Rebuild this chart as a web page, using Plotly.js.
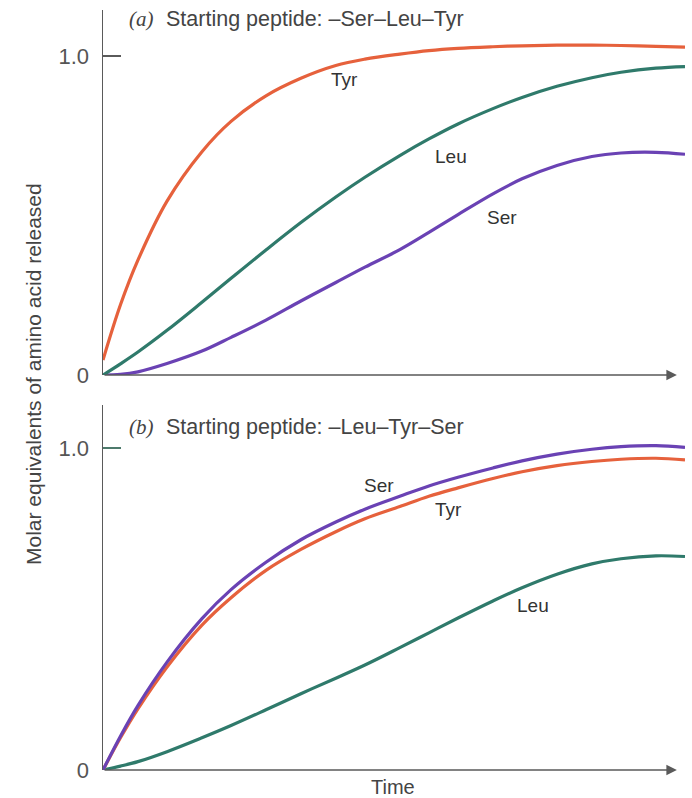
<!DOCTYPE html>
<html>
<head>
<meta charset="utf-8">
<script src="https://cdn.plot.ly/plotly-3.0.1.min.js"></script>
<style>html,body{margin:0;padding:0;background:#fff;}</style>
</head>
<body>
<div id="chart" style="width:692px;height:798px;"></div>
<script>
// Time grid (arbitrary units)
var time = [0, 0.3, 0.6, 1.1, 1.7, 2.2, 2.8, 3.4, 4.0, 4.5, 5.1, 5.6, 6.1, 6.7, 7.2, 7.8, 8.4, 8.9, 9.5, 10];

// (a) Starting peptide: -Ser-Leu-Tyr
var tyrA = [0.047, 0.22, 0.36, 0.545, 0.70, 0.795, 0.875, 0.93, 0.97, 0.99, 1.006, 1.017, 1.024, 1.029, 1.032, 1.034, 1.034, 1.033, 1.030, 1.028];
var leuA = [0, 0.035, 0.072, 0.14, 0.228, 0.303, 0.392, 0.478, 0.558, 0.62, 0.688, 0.74, 0.787, 0.835, 0.87, 0.905, 0.932, 0.949, 0.962, 0.967];
var serA = [0, 0.002, 0.01, 0.036, 0.075, 0.118, 0.172, 0.232, 0.29, 0.338, 0.393, 0.447, 0.503, 0.568, 0.615, 0.657, 0.685, 0.696, 0.698, 0.692];

// (b) Starting peptide: -Leu-Tyr-Ser
var serB = [0, 0.105, 0.2, 0.335, 0.47, 0.56, 0.645, 0.715, 0.77, 0.81, 0.85, 0.882, 0.909, 0.938, 0.96, 0.981, 0.996, 1.004, 1.007, 1.002];
var tyrB = [0, 0.1, 0.19, 0.32, 0.45, 0.535, 0.62, 0.685, 0.74, 0.78, 0.818, 0.85, 0.876, 0.905, 0.926, 0.945, 0.958, 0.965, 0.968, 0.963];
var leuB = [0, 0.012, 0.026, 0.057, 0.10, 0.138, 0.187, 0.237, 0.285, 0.326, 0.38, 0.426, 0.472, 0.525, 0.566, 0.608, 0.64, 0.656, 0.665, 0.663];

var yTickVals = [0, 1];
var yTickText = ['0', '1.0'];

var cTyr = '#e6613c', cLeu = '#2f7a6b', cSer = '#6a42b4';
var axisCol = '#5a5a5a';
var FONT = 'Liberation Sans, Arial, sans-serif';

function tr(y, color, xa, ya) {
  return {x: time, y: y, xaxis: xa, yaxis: ya, mode: 'lines', hoverinfo: 'skip',
          line: {color: color, width: 3.2, shape: 'spline', smoothing: 1}};
}

var data = [
  tr(serA, cSer, 'x', 'y'), tr(leuA, cLeu, 'x', 'y'), tr(tyrA, cTyr, 'x', 'y'),
  tr(leuB, cLeu, 'x2', 'y2'), tr(tyrB, cTyr, 'x2', 'y2'), tr(serB, cSer, 'x2', 'y2')
];

function yax(domain, range, tickcol) {
  return {domain: domain, range: range, showgrid: false, zeroline: false,
          showline: true, linecolor: axisCol, linewidth: 1.5,
          tickvals: yTickVals, ticktext: yTickText, ticks: 'inside', ticklen: 18,
          tickwidth: 1.5, tickcolor: tickcol, ticklabelstandoff: 8,
          tickfont: {family: FONT, size: 22, color: '#555'}};
}
function xax(anchor) {
  return {domain: [0, 1], range: [0, 10], anchor: anchor, showgrid: false, zeroline: false,
          showline: false, showticklabels: false, ticks: ''};
}

var ann = [];
function lab(text, x, y, xr, yr) {
  ann.push({text: text, x: x, y: y, xref: xr, yref: yr, showarrow: false,
            xanchor: 'center', yanchor: 'middle',
            font: {family: FONT, size: 19, color: '#333'}});
}
function arrow(xr, yr) {
  ann.push({text: '', x: 9.86, y: 0, ax: 0, ay: 0, xref: xr, yref: yr, axref: xr, ayref: yr,
            showarrow: true, arrowhead: 2, arrowsize: 1.4, arrowwidth: 1.5, arrowcolor: axisCol});
}
arrow('x', 'y');
arrow('x2', 'y2');

lab('Tyr', 4.15, 0.925, 'x', 'y');
lab('Leu', 5.98, 0.685, 'x', 'y');
lab('Ser', 6.85, 0.495, 'x', 'y');
lab('Ser', 4.74, 0.885, 'x2', 'y2');
lab('Tyr', 5.93, 0.81, 'x2', 'y2');
lab('Leu', 7.39, 0.51, 'x2', 'y2');

function title(letter, rest, yr, yv) {
  ann.push({text: '<i>(' + letter + ')</i>', x: 0.42, y: yv, xref: 'x', yref: yr,
            xanchor: 'left', yanchor: 'middle',
            showarrow: false, font: {family: 'Liberation Serif, serif', size: 21, color: '#444'}});
  ann.push({text: rest, x: 1.05, y: yv, xref: 'x', yref: yr, xanchor: 'left', yanchor: 'middle',
            showarrow: false, font: {family: FONT, size: 21.5, color: '#444'}});
}
title('a', 'Starting peptide: \u2013Ser\u2013Leu\u2013Tyr', 'y', 1.116);
title('b', 'Starting peptide: \u2013Leu\u2013Tyr\u2013Ser', 'y2', 1.065);

var W = 692, H = 798, L = 103, R = 7, T = 10, B = 28;
function px2paperX(px) { return (px - L) / (W - L - R); }
function px2paperY(py) { return (H - B - py) / (H - T - B); }

ann.push({text: 'Molar equivalents of amino acid released', textangle: -90,
          x: px2paperX(33), y: px2paperY(374), xref: 'paper', yref: 'paper',
          xanchor: 'center', yanchor: 'middle', showarrow: false,
          font: {family: FONT, size: 21, color: '#444'}});
ann.push({text: 'Time', x: px2paperX(393), y: px2paperY(787), xref: 'paper', yref: 'paper',
          xanchor: 'center', yanchor: 'middle', showarrow: false,
          font: {family: FONT, size: 20, color: '#444'}});

var layout = {
  width: W, height: H, margin: {l: L, r: R, t: T, b: B},
  paper_bgcolor: '#ffffff', plot_bgcolor: '#ffffff', showlegend: false,
  xaxis: xax('y'), xaxis2: xax('y2'),
  yaxis: yax([0.5197, 1], [0, 1.1442], axisCol),
  yaxis2: yax([0, 0.4803], [0, 1.1335], '#4d7a6c'),
  annotations: ann
};

Plotly.newPlot('chart', data, layout, {displayModeBar: false, staticPlot: true});
</script>
</body>
</html>
